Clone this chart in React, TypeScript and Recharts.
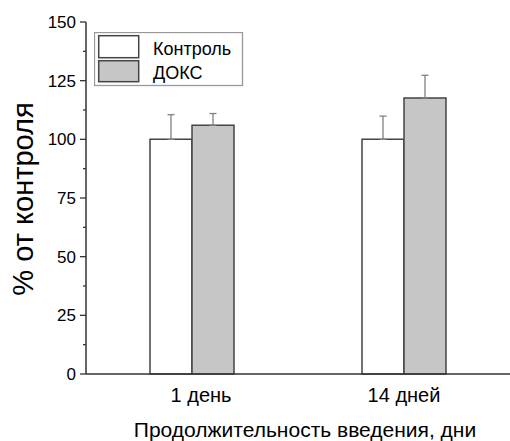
import React from 'react';
import { BarChart, Bar, XAxis, YAxis, ErrorBar, Legend, Label } from 'recharts';

const categories = ['1 день', '14 дней'];
const controlValues = [100, 100];
const controlErrors = [10.5, 9.9];
const doksValues = [106, 117.6];
const doksErrors = [5, 9.7];
const yTicks = [0, 12.5, 25, 37.5, 50, 62.5, 75, 87.5, 100, 112.5, 125, 137.5, 150];

const seriesNames = { control: 'Контроль', doks: 'ДОКС' };
const seriesOrder = ['control', 'doks'];

const data = categories.map((c, i) => ({
  cat: c,
  control: controlValues[i],
  controlErr: [0, controlErrors[i]],
  doks: doksValues[i],
  doksErr: [0, doksErrors[i]],
}));

const FONT = '"Liberation Sans", Arial, sans-serif';
const AXIS = '#333';

const YTick = (props: any) => {
  const { x, y, payload } = props;
  const v = payload.value;
  const major = v % 25 === 0;
  return (
    <g>
      <line x1={x - (major ? 6 : 3)} x2={x} y1={y} y2={y} stroke={AXIS} strokeWidth={1.3} />
      {major && (
        <text x={x - 10} y={y} dy="0.355em" textAnchor="end" fontSize={17} fill="#000" fontFamily={FONT}>
          {v}
        </text>
      )}
    </g>
  );
};

const XTick = (props: any) => {
  const { x, y, payload, index } = props;
  return (
    <text x={x + (index === 0 ? 9 : 0)} y={y + 28} textAnchor="middle" fontSize={20} fill="#000" fontFamily={FONT}>
      {payload.value}
    </text>
  );
};

const LegendBox = (props: any) => {
  const raw = props.payload || [];
  const payload = [...raw].sort(
    (a: any, b: any) => seriesOrder.indexOf(String(a.dataKey)) - seriesOrder.indexOf(String(b.dataKey))
  );
  return (
    <svg width={150} height={56} style={{ display: 'block' }}>
      <rect x={0.5} y={0.5} width={148} height={53} fill="#fff" stroke="#999" strokeWidth={1.3} />
      {payload.map((e: any, i: number) => (
        <g key={i}>
          <rect
            x={4.7}
            y={i === 0 ? 3.7 : 28.7}
            width={40}
            height={i === 0 ? 22 : 21}
            fill={e.color}
            stroke="#444"
            strokeWidth={1.5}
          />
          <text x={59} y={i === 0 ? 23 : 47} fontSize={18} fill="#000" fontFamily={FONT}>
            {e.value}
          </text>
        </g>
      ))}
    </svg>
  );
};

export default function App() {
  return (
    <div style={{ position: 'absolute', left: 0, top: 0 }}>
      <BarChart
        width={510}
        height={441}
        data={data}
        margin={{ top: 22, right: 0, bottom: 0, left: 0 }}
        barGap={0}
        barSize={42}
        style={{ fontFamily: FONT }}
      >
        <XAxis
          dataKey="cat"
          height={67}
          tickLine={false}
          tickSize={0}
          tickMargin={0}
          tick={<XTick />}
          axisLine={{ stroke: AXIS, strokeWidth: 1.5 }}
          interval={0}
        >
          <Label
            value="Продолжительность введения, дни"
            position="insideBottom"
            offset={4}
            dx={7}
            fontSize={21}
            fill="#000"
            fontFamily={FONT}
          />
        </XAxis>
        <YAxis
          width={86}
          domain={[0, 150]}
          ticks={yTicks}
          interval={0}
          tickLine={false}
          tickSize={0}
          tickMargin={0}
          tick={<YTick />}
          axisLine={{ stroke: AXIS, strokeWidth: 1.5 }}
        >
          <Label
            content={(p: any) => {
              const vb = p.viewBox;
              const cx = 33;
              const cy = vb.y + vb.height / 2 + 1;
              return (
                <text
                  x={cx}
                  y={cy}
                  transform={`rotate(-90 ${cx} ${cy})`}
                  textAnchor="middle"
                  fontSize={29}
                  fill="#000"
                  fontFamily={FONT}
                >
                  % от контроля
                </text>
              );
            }}
          />
        </YAxis>
        <Legend
          layout="vertical"
          align="center"
          verticalAlign="middle"
          wrapperStyle={{ left: 94, top: 32, width: 150, height: 56 }}
          content={<LegendBox />}
        />
        <Bar
          dataKey="control"
          name={seriesNames.control}
          fill="#ffffff"
          stroke="#444"
          strokeWidth={1.5}
          isAnimationActive={false}
        >
          <ErrorBar dataKey="controlErr" width={3.5} stroke="#808080" strokeWidth={1.3} direction="y" />
        </Bar>
        <Bar
          dataKey="doks"
          name={seriesNames.doks}
          fill="#c6c6c6"
          stroke="#444"
          strokeWidth={1.5}
          isAnimationActive={false}
        >
          <ErrorBar dataKey="doksErr" width={3.5} stroke="#808080" strokeWidth={1.3} direction="y" />
        </Bar>
      </BarChart>
    </div>
  );
}
